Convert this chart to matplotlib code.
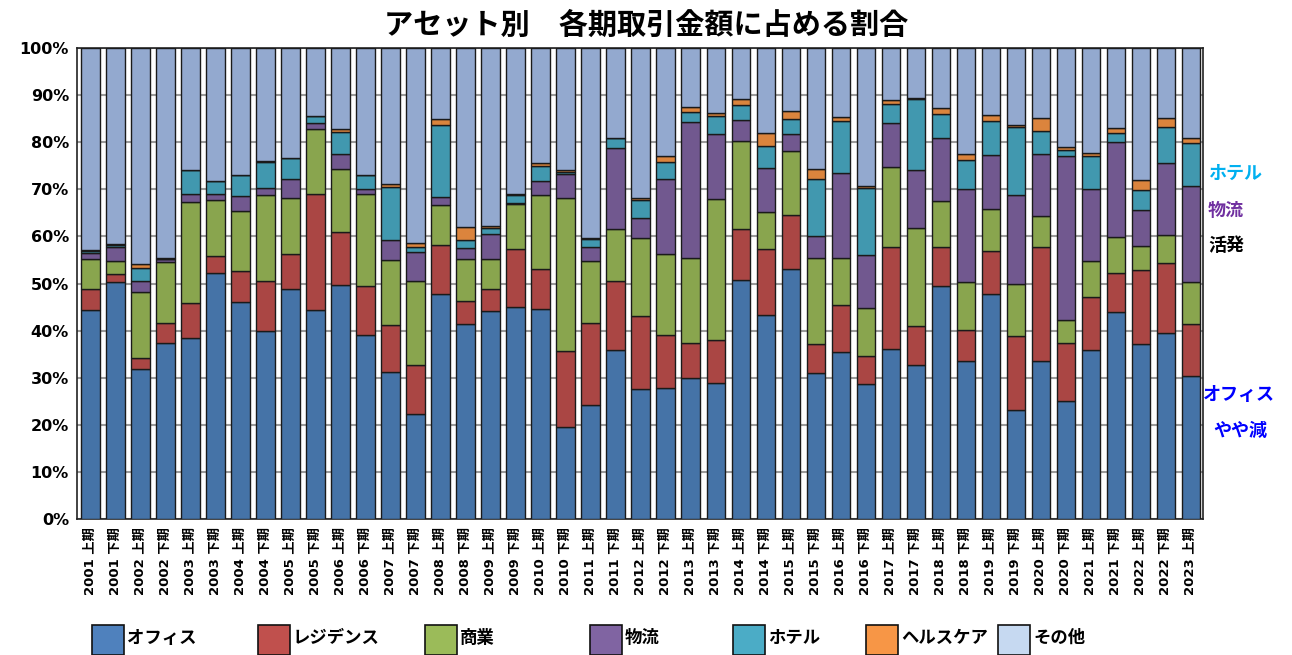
import numpy as np
import matplotlib.pyplot as plt
from matplotlib.patches import Rectangle

plt.rcParams['font.family'] = ['DejaVu Sans', 'Noto Sans CJK JP']

# periods
years = [2001, 2001, 2002, 2002, 2003, 2003, 2004, 2004, 2005, 2005,
         2006, 2006, 2007, 2007, 2008, 2008, 2009, 2009, 2010, 2010,
         2011, 2011, 2012, 2012, 2013, 2013, 2014, 2014, 2015, 2015,
         2016, 2016, 2017, 2017, 2018, 2018, 2019, 2019, 2020, 2020,
         2021, 2021, 2022, 2022, 2023]
halves = ["上期", "下期"] * 22 + ["上期"]
labels = [f"{y} {h}" for y, h in zip(years, halves)]

# share of transaction amount (%)
office = [44.4, 50.4, 31.9, 37.4, 38.4, 52.2, 46.0, 40.0, 48.8, 44.4,
          49.7, 39.0, 31.2, 22.4, 47.7, 41.4, 44.2, 45.0, 44.5, 19.6,
          24.3, 35.8, 27.6, 27.9, 30.0, 28.9, 50.7, 43.4, 53.0, 31.1,
          35.5, 28.6, 36.2, 32.7, 49.5, 33.6, 47.7, 23.2, 33.5, 25.1,
          35.9, 43.9, 37.2, 39.6, 30.3]
residence = [4.5, 1.6, 2.3, 4.2, 7.4, 3.6, 6.6, 10.6, 7.4, 24.5,
             11.2, 10.4, 9.9, 10.3, 10.5, 4.8, 4.6, 12.3, 8.5, 16.0,
             17.3, 14.8, 15.4, 11.1, 7.3, 9.2, 10.8, 13.9, 11.6, 6.0,
             9.9, 6.1, 21.5, 8.3, 8.2, 6.5, 9.2, 15.6, 24.2, 12.2,
             11.2, 8.4, 15.7, 14.7, 11.0]
retail = [6.2, 2.8, 14.0, 12.9, 21.6, 12.0, 12.7, 18.2, 11.9, 13.8,
          13.5, 19.6, 13.8, 17.8, 8.5, 9.0, 6.3, 9.6, 15.7, 32.6,
          13.2, 10.9, 16.7, 17.2, 18.2, 29.9, 18.7, 7.8, 13.5, 18.3,
          10.1, 10.2, 17.1, 20.7, 9.8, 10.3, 8.9, 11.1, 6.7, 5.0,
          7.7, 7.6, 5.0, 6.1, 9.1]
logistics = [1.4, 2.9, 2.3, 0.6, 1.7, 1.3, 3.3, 1.4, 4.0, 1.4,
             3.1, 1.1, 4.4, 6.2, 1.7, 2.3, 5.4, 0.3, 3.1, 5.0,
             3.0, 17.3, 4.2, 15.9, 28.7, 13.7, 4.5, 9.4, 3.6, 4.6,
             18.0, 11.1, 9.2, 12.5, 13.5, 19.6, 11.5, 18.9, 13.2, 34.8,
             15.2, 20.1, 7.8, 15.1, 20.4]
hotel = [0.4, 0.5, 2.8, 0.2, 4.9, 2.6, 4.5, 5.6, 4.6, 1.5,
         4.7, 3.0, 11.2, 1.1, 15.3, 1.7, 1.2, 1.6, 3.2, 0.4,
         1.7, 2.0, 3.9, 3.6, 2.3, 3.8, 3.1, 4.7, 3.3, 12.2,
         11.0, 14.3, 4.2, 15.0, 4.9, 6.2, 7.2, 14.5, 4.7, 1.3,
         7.1, 2.0, 4.2, 7.8, 9.1]
healthcare = [0.2, 0.1, 0.9, 0.2, 0.1, 0.0, 0.0, 0.3, 0.0, 0.0,
              0.5, 0.0, 0.6, 0.8, 1.2, 2.9, 0.5, 0.1, 0.5, 0.5,
              0.2, 0.0, 0.3, 1.3, 1.0, 0.7, 1.4, 2.7, 1.7, 2.1,
              0.9, 0.4, 0.7, 0.1, 1.3, 1.3, 1.3, 0.4, 2.8, 0.6,
              0.6, 1.1, 2.1, 1.9, 0.9]
other = [42.9, 41.7, 45.8, 44.5, 25.9, 28.3, 26.9, 23.9, 23.3, 14.4,
         17.3, 26.9, 28.9, 41.4, 15.1, 37.9, 37.8, 31.1, 24.5, 25.9,
         40.3, 19.2, 31.9, 23.0, 12.5, 13.8, 10.8, 18.1, 13.3, 25.7,
         14.6, 29.3, 11.1, 10.7, 12.8, 22.5, 14.2, 16.3, 14.9, 21.0,
         22.3, 16.9, 28.0, 14.8, 19.2]

series = [
    ("オフィス", office, "#4573A7", "#4F81BD"),
    ("レジデンス", residence, "#AA4644", "#C0504D"),
    ("商業", retail, "#89A54E", "#9BBB59"),
    ("物流", logistics, "#71588F", "#8064A2"),
    ("ホテル", hotel, "#4198AF", "#4BACC6"),
    ("ヘルスケア", healthcare, "#DB843D", "#F79646"),
    ("その他", other, "#93A9CF", "#C6D9F1"),
]

fig = plt.figure(figsize=(12.92, 6.55), dpi=100)
ax = fig.add_axes([0.0598, 0.2076, 0.8711, 0.7191])

x = np.arange(len(labels))
bottom = np.zeros(len(labels))
for name, vals, color, _ in series:
    vals = np.array(vals)
    ax.bar(x, vals, width=0.73, bottom=bottom, color=color,
           edgecolor="#1a1a1a", linewidth=1.0, zorder=3)
    bottom += vals

ax.set_ylim(0, 100)
ax.set_xlim(-0.53, len(labels) - 1 + 0.48)
ax.set_yticks(np.arange(0, 101, 10))
ax.set_yticklabels([f"{v}%" for v in range(0, 101, 10)],
                   fontsize=11.5, fontweight="bold")
ax.set_xticks(x)
ax.set_xticklabels(labels, rotation=90, fontsize=9.5, fontweight="bold")
ax.tick_params(axis="y", length=0, pad=6)
ax.tick_params(axis="x", length=0, pad=6)
ax.yaxis.grid(True, color="#9a9a9a", linewidth=1.5, zorder=0)
ax.set_axisbelow(True)
for sp in ax.spines.values():
    sp.set_color("#222222")
    sp.set_linewidth(1.2)

fig.text(0.5, 0.962, "アセット別　各期取引金額に占める割合",
         ha="center", va="center", fontsize=21, fontweight="bold",
         family=["Noto Sans CJK JP"])

# side notes
notes = [("ホテル", "#00B0F0", 173, 1208), ("物流", "#7030A0", 210, 1208),
         ("活発", "#000000", 245, 1208), ("オフィス", "#0000FF", 394, 1203),
         ("やや減", "#0000FF", 430, 1213)]
for txt, col, ypix, xpix in notes:
    fig.text(xpix / 1292, 1 - ypix / 655, txt, color=col, fontsize=13,
             fontweight="bold", ha="left", va="center",
             family=["Noto Sans CJK JP"])

# legend along the bottom
leg_x = [92, 258, 425, 590, 733, 866, 998]
for (name, _, _, lcol), px in zip(series, leg_x):
    fig.patches.append(Rectangle((px / 1292, 0), 32 / 1292, 30 / 655,
                                 transform=fig.transFigure, facecolor=lcol,
                                 edgecolor="#111111", linewidth=1.2))
    fig.text((px + 35) / 1292, 1 - 638 / 655, name, fontsize=12.5,
             fontweight="bold", ha="left", va="center",
             family=["Noto Sans CJK JP"])

fig.savefig("out.png", dpi=100)
